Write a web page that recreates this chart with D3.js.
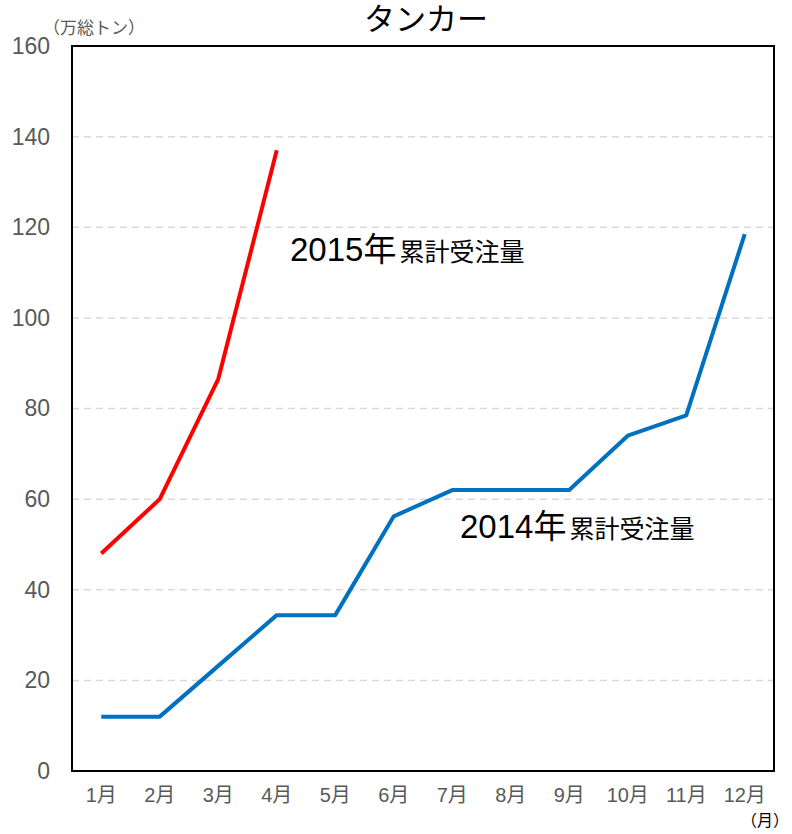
<!DOCTYPE html>
<html>
<head>
<meta charset="utf-8">
<script src="https://cdn.jsdelivr.net/npm/d3@7"></script>
<style>
  body { margin: 0; background: #fff; }
  text { font-family: "Liberation Sans", Arial, "Noto Sans CJK JP", sans-serif; }
</style>
</head>
<body>
<div id="chart"></div>
<script>
// data
var months = ["1月", "2月", "3月", "4月", "5月", "6月", "7月", "8月", "9月", "10月", "11月", "12月"];
var orders2015 = [48, 60, 86.5, 137];
var orders2014 = [12, 12, 23.2, 34.4, 34.4, 56.2, 62, 62, 62, 74, 78.5, 118.5];
var yTicks = [0, 20, 40, 60, 80, 100, 120, 140, 160];

var margin = { top: 46, right: 18, bottom: 63, left: 72 },
    width = 792 - margin.left - margin.right,
    height = 834 - margin.top - margin.bottom;

var svg = d3.select("#chart")
    .append("svg")
    .attr("width", 792)
    .attr("height", 834);

var g = svg.append("g")
    .attr("transform", "translate(" + margin.left + "," + margin.top + ")");

var x = d3.scaleBand()
    .domain(months)
    .range([0, width]);

var y = d3.scaleLinear()
    .domain([0, 160])
    .range([height, 0]);

// grid lines
g.append("g")
    .selectAll("line")
    .data(yTicks.filter(d => d > 0 && d < 160))
    .join("line")
    .attr("x1", 0)
    .attr("x2", width)
    .attr("y1", d => y(d))
    .attr("y2", d => y(d))
    .style("stroke", "#d9d9d9")
    .style("stroke-width", 1.5)
    .style("stroke-dasharray", "7,5");

// y axis labels
var yAxis = g.append("g")
    .call(d3.axisLeft(y).tickValues(yTicks).tickSize(0).tickPadding(22));
yAxis.select(".domain").remove();
yAxis.selectAll("text")
    .style("font-size", "23px")
    .style("fill", "#595959");

// x axis labels
var xAxis = g.append("g")
    .attr("transform", "translate(0," + height + ")")
    .call(d3.axisBottom(x).tickSize(0).tickPadding(17));
xAxis.select(".domain").remove();
xAxis.selectAll("text")
    .style("font-size", "20px")
    .style("fill", "#595959");

// border
g.append("rect")
    .attr("x", 0)
    .attr("y", 0)
    .attr("width", width)
    .attr("height", height)
    .style("fill", "none")
    .style("stroke", "#000")
    .style("stroke-width", 2);

var line = d3.line()
    .x((d, i) => x(months[i]) + x.bandwidth() / 2)
    .y(d => y(d));

g.append("path")
    .datum(orders2014)
    .attr("d", line)
    .style("fill", "none")
    .style("stroke", "#0070c0")
    .style("stroke-width", 4)
    .style("stroke-linejoin", "round");

g.append("path")
    .datum(orders2015)
    .attr("d", line)
    .style("fill", "none")
    .style("stroke", "#ff0000")
    .style("stroke-width", 4)
    .style("stroke-linejoin", "round");

// title
svg.append("text")
    .attr("x", 426)
    .attr("y", 30)
    .attr("text-anchor", "middle")
    .style("font-size", "31px")
    .style("fill", "#000")
    .text("タンカー");

// units
svg.append("text")
    .attr("x", 43)
    .attr("y", 34)
    .style("font-size", "17px")
    .style("fill", "#595959")
    .text("（万総トン）");

svg.append("text")
    .attr("x", 789)
    .attr("y", 826)
    .attr("text-anchor", "end")
    .style("font-size", "16px")
    .style("fill", "#000")
    .text("（月）");

// series labels
function seriesLabel(xPos, yPos, year) {
    var t = svg.append("text")
        .attr("x", xPos)
        .attr("y", yPos)
        .style("fill", "#000");
    t.append("tspan").style("font-size", "33px").text(year + "年");
    t.append("tspan").attr("dx", 3).style("font-size", "25px").text("累計受注量");
}
seriesLabel(290, 261, 2015);
seriesLabel(460, 538, 2014);
</script>
</body>
</html>
